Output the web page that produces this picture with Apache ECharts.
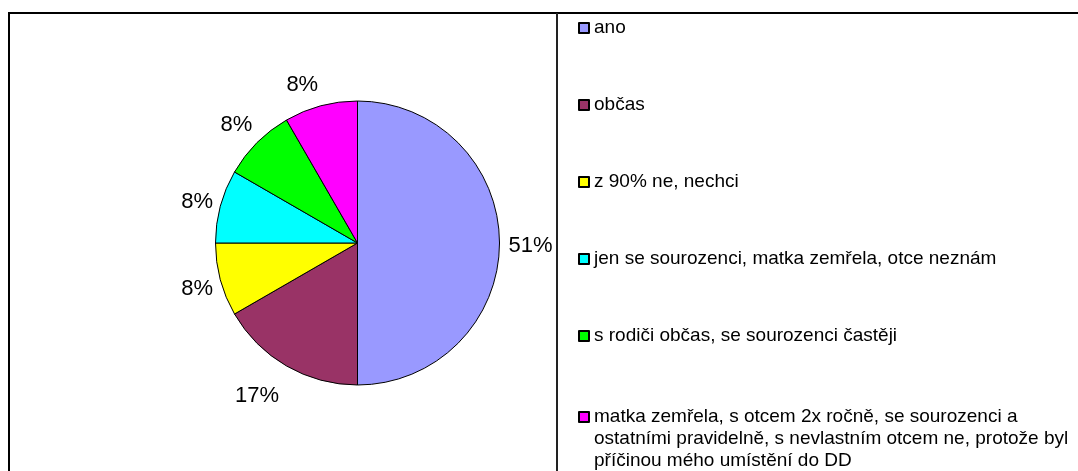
<!DOCTYPE html>
<html>
<head>
<meta charset="utf-8">
<title>pie</title>
<script src="https://cdn.jsdelivr.net/npm/echarts@6/dist/echarts.min.js"></script>
<style>
html, body { margin: 0; padding: 0; background: #fff; }
#chart { width: 1078px; height: 471px; }
</style>
</head>
<body>
<div id="chart"></div>
<script>
// legend names, same order as the slices (clockwise from 12 o'clock)
var categories = [
    'ano',
    'občas',
    'z 90% ne, nechci',
    'jen se sourozenci, matka zemřela, otce neznám',
    's rodiči občas, se sourozenci častěji',
    'matka zemřela, s otcem 2x ročně, se sourozenci a\nostatními pravidelně, s nevlastním otcem ne, protože byl\npříčinou mého umístění do DD'
];
// answers per category (180/60/30/30/30/30 deg)
var counts = [6, 2, 1, 1, 1, 1];
// percent labels as they are printed beside the slices
var percentLabels = ['51%', '17%', '8%', '8%', '8%', '8%'];
var colors = ['#9999FF', '#993366', '#FFFF00', '#00FFFF', '#00FF00', '#FF00FF'];
// small nudges so the labels sit where the old chart put them
var labelNudge = [[6, 0], [-17, 5], [1, 0], [1, -1], [-3, -3], [-12, 0]];

var chart = echarts.init(document.getElementById('chart'));

var pieData = categories.map(function (name, i) {
    return { name: name, value: counts[i] };
});

var legendText = {
    fontFamily: 'Liberation Sans',
    fontSize: 19,
    lineHeight: 22,
    color: '#000'
};
var legendBase = {
    orient: 'vertical',
    left: 578,
    height: 1000,
    padding: 0,
    itemWidth: 10,
    itemHeight: 10,
    itemGap: 55,
    icon: 'rect',
    selectedMode: false,
    textStyle: legendText
};

var option = {
    backgroundColor: '#fff',
    animation: false,
    color: colors,
    legend: [
        Object.assign({}, legendBase, {
            top: 17,
            data: categories.slice(0, 5)
        }),
        // the long answer gets its own legend so the icon lines up with its
        // first line (two empty lines on top put line one in the middle)
        Object.assign({}, legendBase, {
            top: 362,
            data: categories.slice(5),
            formatter: function (name) {
                return '\n\n' + name;
            }
        })
    ],
    graphic: [
        {
            type: 'rect',
            silent: true,
            shape: { x: 9, y: 13, width: 1200, height: 600 },
            style: { fill: null, stroke: '#000', lineWidth: 2 }
        },
        {
            type: 'line',
            silent: true,
            shape: { x1: 557, y1: 13, x2: 557, y2: 480 },
            style: { stroke: '#222', lineWidth: 2 }
        }
    ],
    series: [
        {
            name: 'pie',
            type: 'pie',
            center: [357.5, 243],
            radius: 142,
            startAngle: 90,
            clockwise: true,
            silent: true,
            label: { show: false },
            labelLine: { show: false },
            itemStyle: { borderColor: '#000', borderWidth: 1 },
            emphasis: { disabled: true },
            data: pieData
        },
        {
            // invisible ring that only carries the percent labels
            name: 'labels',
            type: 'pie',
            center: [357.5, 243],
            radius: [154, 174],
            startAngle: 90,
            clockwise: true,
            silent: true,
            itemStyle: { color: 'rgba(0,0,0,0)', borderWidth: 0 },
            labelLine: { show: false },
            emphasis: { disabled: true },
            label: {
                show: true,
                position: 'inside',
                fontFamily: 'Liberation Sans',
                fontSize: 22,
                color: '#000',
                formatter: function (p) {
                    return percentLabels[p.dataIndex];
                }
            },
            labelLayout: function (p) {
                var n = labelNudge[p.dataIndex];
                return { dx: n[0], dy: n[1] + 3 };
            },
            data: pieData
        }
    ]
};

chart.setOption(option);
</script>
</body>
</html>
